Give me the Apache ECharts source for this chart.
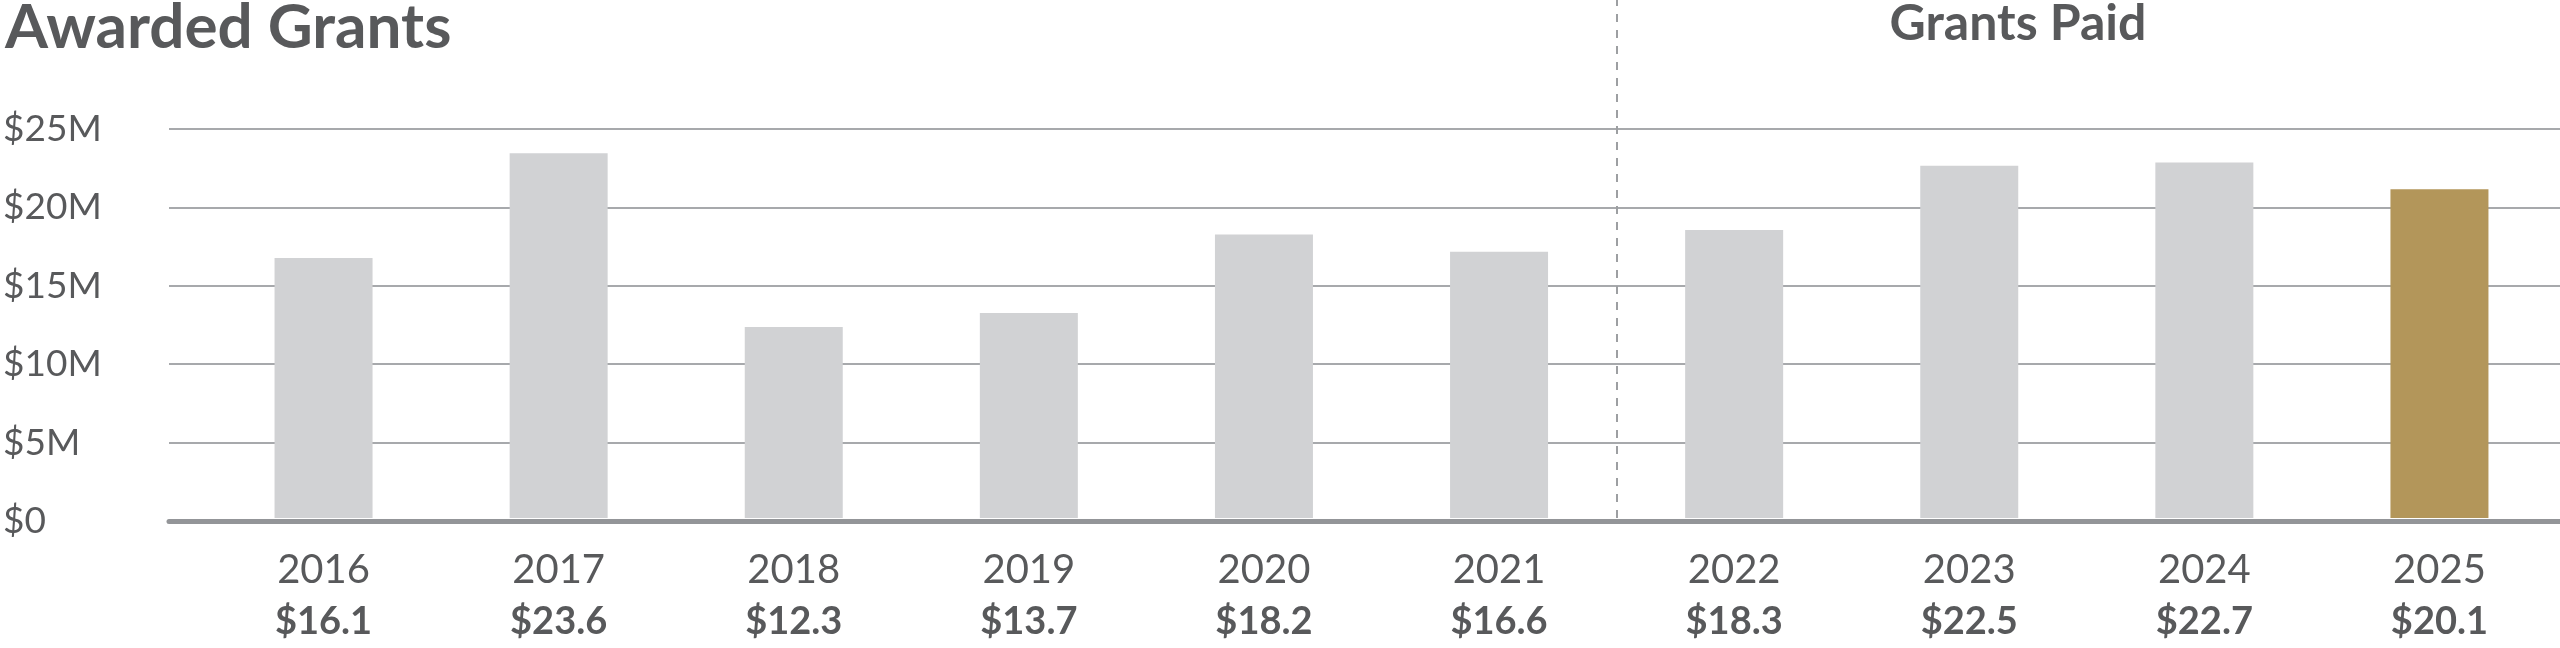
<!DOCTYPE html><html><head><meta charset="utf-8">
<script src="https://cdn.jsdelivr.net/npm/echarts@6/dist/echarts.min.js"></script>
<style>html,body{margin:0;padding:0;background:#fff}#c{width:2560px;height:648px}</style></head>
<body><div id="c"></div><script>
const categories=['2016','2017','2018','2019','2020','2021','2022','2023','2024','2025'];
const barValues=[16.6,23.3,12.2,13.1,18.1,17.0,18.4,22.5,22.7,21.0];
const labelValues=['$16.1','$23.6','$12.3','$13.7','$18.2','$16.6','$18.3','$22.5','$22.7','$20.1'];
const yTicks=[0,5,10,15,20,25];
const F='Lato, "Open Sans", sans-serif', C='#58595b';
const chart=echarts.init(document.getElementById('c'));
chart.setOption({
 animation:false,
 title:[{text:'Awarded Grants',left:0,top:-8,textStyle:{fontFamily:F,fontSize:62,fontWeight:'bold',color:C,letterSpacing:2}},
        {text:'Grants Paid',left:2013,top:-6,textAlign:'center',textStyle:{fontFamily:F,fontSize:50,fontWeight:'bold',color:C}}],
 grid:[{left:168,right:0,top:129,height:392},{left:206,right:3,top:0,height:528}],
 xAxis:[{gridIndex:0,type:'value',min:0,max:1,show:true,axisLine:{show:true,onZero:false,lineStyle:{color:'#939598',width:5}},axisTick:{show:false},axisLabel:{show:false},splitLine:{show:false}},
        {gridIndex:1,type:'category',data:categories,axisLine:{show:false},axisTick:{show:false},
         axisLabel:{margin:26,fontFamily:F,color:C,fontSize:40,lineHeight:52,
          formatter:(v,i)=>v+'\n{b|'+labelValues[i]+'}',rich:{b:{fontFamily:F,fontSize:38,fontWeight:'bold',color:C,lineHeight:52}}}},
        {gridIndex:1,type:'value',min:0,max:10,show:false}],
 yAxis:[{gridIndex:0,type:'value',min:0,max:25,interval:5,axisLine:{show:false},axisTick:{show:false},
         axisLabel:{margin:166,align:'left',fontFamily:F,fontSize:37,color:C,formatter:v=>'$'+v+(v?'M':'')},
         splitLine:{lineStyle:{color:'#a7a9ac',width:2}}},
        {gridIndex:1,type:'value',min:0,max:25*528/399,show:false}],
 series:[{type:'bar',xAxisIndex:1,yAxisIndex:1,barWidth:98,
   data:barValues.map((v,i)=>({value:v,itemStyle:{color:i===9?'#b3965a':'#d1d2d4'}}))},
  {type:'line',xAxisIndex:2,yAxisIndex:1,data:[],
   markLine:{silent:true,symbol:'none',label:{show:false},lineStyle:{type:[8,8],color:'#9d9fa2',width:2},data:[{xAxis:6}]}}]
});
</script></body></html>
